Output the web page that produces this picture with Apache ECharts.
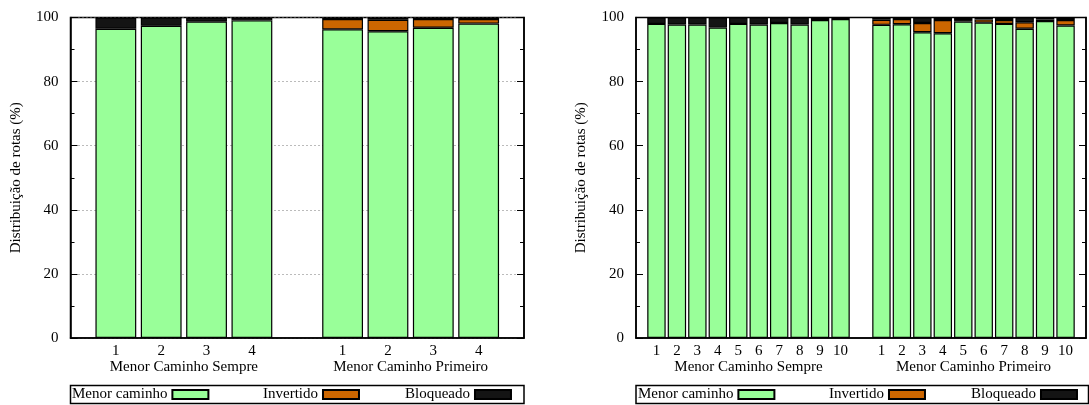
<!DOCTYPE html>
<html>
<head>
<meta charset="utf-8">
<script src="https://cdn.jsdelivr.net/npm/echarts@6/dist/echarts.min.js"></script>
<style>
html,body{margin:0;padding:0;background:#fff;}
#c{width:1089px;height:405px;}
</style>
</head>
<body>
<div id="c"></div>
<script>
// ---- data ----
const seriesNames = ['Menor caminho', 'Invertido', 'Bloqueado'];
const yAxisTitle = 'Distribuição de rotas (%)';
const groupNames = ['Menor Caminho Sempre', 'Menor Caminho Primeiro'];

const catsLeft = ['', '1', '2', '3', '4', '', '1', '2', '3', '4', ''];
const menorLeft = [null, 96.5, 97.4, 98.7, 99.1, null, 96.3, 95.7, 96.8, 98.1, null];
const invLeft   = [null, null, null, null, null, null, 3.2, 3.6, 2.7, 1.4, null];
const bloqLeft  = [null, 3.5, 2.6, 1.3, 0.9, null, 0.5, 0.7, 0.5, 0.5, null];

const catsRight = ['', '1', '2', '3', '4', '5', '6', '7', '8', '9', '10', '',
                   '1', '2', '3', '4', '5', '6', '7', '8', '9', '10', ''];
const menorRight = [null, 98.0, 97.8, 97.8, 96.9, 98.0, 97.8, 98.3, 97.8, 99.2, 99.5, null,
                    97.7, 97.9, 95.4, 95.1, 98.7, 98.4, 98.0, 96.5, 98.9, 97.5, null];
const invRight   = [null, null, null, null, null, null, null, null, null, null, null, null,
                    1.6, 1.6, 2.9, 4.1, 0.5, 1.0, 1.2, 2.0, 0.5, 1.7, null];
const bloqRight  = [null, 2.0, 2.2, 2.2, 3.1, 2.0, 2.2, 1.7, 2.2, 0.8, 0.5, null,
                    0.7, 0.5, 1.7, 0.8, 0.8, 0.6, 0.8, 1.5, 0.6, 0.8, null];

const yTicks = { min: 0, max: 100, interval: 20 };

// ---- styling ----
const FONT = 'Liberation Serif';
const colors = ['#99ff99', '#cc6600', '#141414'];
const black = '#000';

function buildPanel(idx, cats, vals, grid, showGrid) {
  const n = cats.length - 1;
  const half = n / 2;
  const xAxes = [
    {
      type: 'category', gridIndex: idx, data: cats, boundaryGap: false,
      position: 'bottom',
      axisLine: { show: true, onZero: false, lineStyle: { color: black, width: 1.5 } },
      axisTick: { show: false },
      splitLine: { show: false },
      axisLabel: { interval: 0, margin: 6, fontFamily: FONT, fontSize: 15, color: black }
    },
    {
      type: 'value', gridIndex: idx, min: 0, max: n, interval: half / 2,
      position: 'bottom',
      axisLine: { show: false }, axisTick: { show: false }, splitLine: { show: false },
      axisLabel: {
        margin: 22, fontFamily: FONT, fontSize: 15, color: black,
        showMinLabel: false, showMaxLabel: false,
        formatter: function (v) {
          if (Math.abs(v - half / 2) < 1e-6) return groupNames[0];
          if (Math.abs(v - half * 1.5) < 1e-6) return groupNames[1];
          return '';
        }
      }
    }
  ];
  const yAxes = [
    {
      type: 'value', gridIndex: idx, min: yTicks.min, max: yTicks.max, interval: yTicks.interval,
      position: 'left',
      name: yAxisTitle, nameLocation: 'middle', nameGap: 47,
      nameTextStyle: { fontFamily: FONT, fontSize: 15, color: black },
      axisLine: { show: true, lineStyle: { color: black, width: 1.5 } },
      axisTick: { show: true, inside: true, length: 7, lineStyle: { color: black, width: 1 } },
      minorTick: { show: true, splitNumber: 2, length: 4, lineStyle: { color: black, width: 1 } },
      splitLine: { show: showGrid, lineStyle: { color: '#777', width: 1, type: [1, 3] } },
      axisLabel: { margin: 12, fontFamily: FONT, fontSize: 15, color: black }
    },
    {
      type: 'value', gridIndex: idx, min: yTicks.min, max: yTicks.max, interval: yTicks.interval,
      position: 'right',
      axisLine: { show: true, lineStyle: { color: black, width: 1.5 } },
      axisTick: { show: true, inside: true, length: 7, lineStyle: { color: black, width: 1 } },
      minorTick: { show: true, splitNumber: 2, length: 4, lineStyle: { color: black, width: 1 } },
      splitLine: { show: false },
      axisLabel: { show: false }
    }
  ];
  const series = vals.map((d, i) => ({
    name: seriesNames[i], type: 'bar', stack: 'p' + idx,
    xAxisIndex: idx * 2, yAxisIndex: idx * 2,
    barWidth: '90%',
    data: d,
    itemStyle: { color: colors[i], borderColor: black, borderWidth: 1.2 },
    emphasis: { disabled: true }
  }));
  return { xAxes, yAxes, series, grid };
}

const p1 = buildPanel(0, catsLeft, [menorLeft, invLeft, bloqLeft],
  { left: 70.5, top: 17.5, width: 453.5, height: 320.5 }, true);
const p2 = buildPanel(1, catsRight, [menorRight, invRight, bloqRight],
  { left: 636, top: 17.5, width: 452.5, height: 320.5 }, false);

const grids = [p1.grid, p2.grid].map(g => Object.assign({
  show: true, borderColor: black, borderWidth: 1.5, backgroundColor: 'transparent', containLabel: false
}, g));

function legendFor(name, left) {
  return {
    data: [{ name: name, icon: 'rect' }], left: left, top: 387, orient: 'horizontal', align: 'right',
    itemWidth: 36, itemHeight: 9, padding: 0, selectedMode: false,
    textStyle: { fontFamily: FONT, fontSize: 15, color: black }
  };
}
const legendLefts = [[72, 263, 405], [638, 829, 971]];
const legends = [];
legendLefts.forEach(arr => arr.forEach((l, i) => legends.push(legendFor(seriesNames[i], l))));

const option = {
  animation: false,
  backgroundColor: '#fff',
  grid: grids,
  xAxis: p1.xAxes.concat(p2.xAxes),
  yAxis: p1.yAxes.concat(p2.yAxes),
  series: p1.series.concat(p2.series),
  legend: legends,
  graphic: [
    { type: 'rect', shape: { x: 70.5, y: 385.5, width: 453.5, height: 18 },
      style: { fill: 'none', stroke: black, lineWidth: 1.5 }, silent: true },
    { type: 'rect', shape: { x: 636, y: 385.5, width: 452.5, height: 18 },
      style: { fill: 'none', stroke: black, lineWidth: 1.5 }, silent: true }
  ]
};

const chart = echarts.init(document.getElementById('c'), null, { renderer: 'canvas' });
chart.setOption(option);
</script>
</body>
</html>
